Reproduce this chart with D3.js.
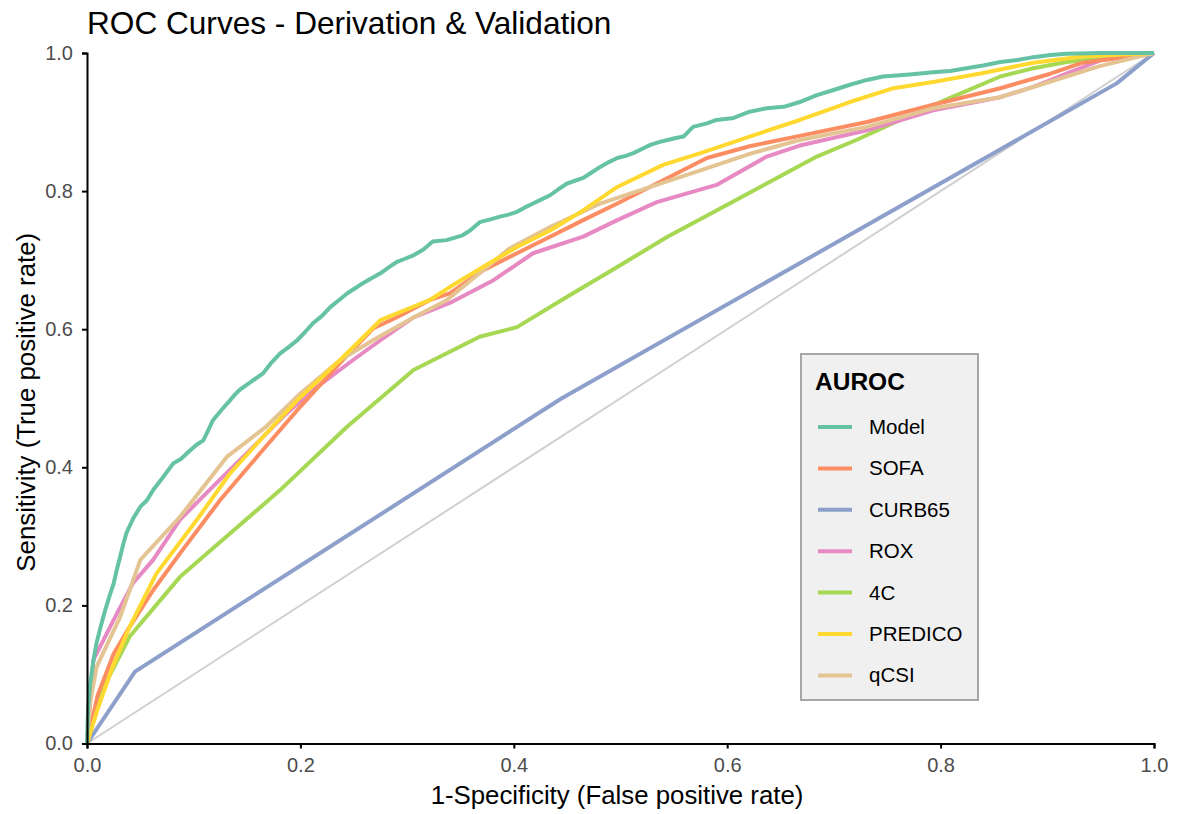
<!DOCTYPE html>
<html><head><meta charset="utf-8">
<script src="https://cdn.jsdelivr.net/npm/d3@7"></script>
<style>body{margin:0;background:#fff;font-family:"Liberation Sans",Arial,sans-serif}</style>
</head><body><svg id="c" width="1178" height="814"></svg>
<script>
const seriesNames = ["Model","SOFA","CURB65","ROX","4C","PREDICO","qCSI"];
const seriesColors = ["#66c2a5","#fc8d62","#8da0cb","#e78ac3","#a6d854","#ffd92f","#e5c494"];
const xTicks = [0,0.2,0.4,0.6,0.8,1.0];
const yTicks = [0,0.2,0.4,0.6,0.8,1.0];

const modelFpr = [0,0.001,0.003,0.006,0.009,0.013,0.017,0.021,0.025,0.028,0.031,0.034,0.037,0.043,0.050,0.056,0.062,0.070,0.081,0.088,0.097,0.103,0.109,0.114,0.118,0.126,0.134,0.139,0.143,0.152,0.165,0.172,0.181,0.189,0.197,0.205,0.212,0.220,0.228,0.236,0.244,0.252,0.259,0.267,0.275,0.283,0.290,0.298,0.306,0.315,0.324,0.337,0.352,0.359,0.368,0.378,0.387,0.395,0.403,0.410,0.418,0.426,0.434,0.442,0.450,0.465,0.474,0.481,0.489,0.497,0.505,0.512,0.520,0.528,0.536,0.544,0.552,0.559,0.568,0.581,0.590,0.606,0.621,0.637,0.653,0.668,0.684,0.699,0.715,0.731,0.746,0.771,0.793,0.809,0.824,0.840,0.856,0.872,0.887,0.903,0.918,0.950,1.0];
const modelTpr = [0,0.05,0.087,0.12,0.146,0.17,0.193,0.213,0.232,0.252,0.270,0.289,0.305,0.325,0.343,0.352,0.367,0.383,0.406,0.412,0.425,0.433,0.439,0.455,0.468,0.483,0.497,0.506,0.512,0.522,0.536,0.550,0.565,0.574,0.584,0.597,0.609,0.619,0.632,0.642,0.652,0.660,0.667,0.674,0.681,0.690,0.697,0.702,0.707,0.715,0.727,0.729,0.736,0.743,0.755,0.759,0.763,0.766,0.770,0.776,0.782,0.788,0.794,0.803,0.811,0.819,0.828,0.835,0.842,0.848,0.851,0.855,0.861,0.867,0.871,0.874,0.877,0.879,0.893,0.898,0.903,0.906,0.915,0.920,0.922,0.929,0.939,0.946,0.954,0.961,0.966,0.969,0.972,0.974,0.978,0.982,0.987,0.990,0.994,0.997,0.999,1.0,1.0];

const sofaFpr = [0,0.010,0.025,0.040,0.062,0.087,0.125,0.162,0.200,0.237,0.268,0.290,0.321,0.340,0.371,0.403,0.434,0.465,0.497,0.534,0.581,0.621,0.668,0.731,0.793,0.856,0.903,0.933,1.0];
const sofaTpr = [0,0.07,0.13,0.169,0.222,0.275,0.353,0.420,0.488,0.551,0.601,0.617,0.642,0.652,0.685,0.710,0.734,0.758,0.782,0.811,0.848,0.865,0.880,0.900,0.925,0.949,0.970,0.986,1.0];

const curbFpr = [0,0.045,0.445,0.965,1.0];
const curbTpr = [0,0.104,0.500,0.956,1.0];

const roxFpr = [0,0.006,0.025,0.043,0.062,0.087,0.118,0.156,0.187,0.212,0.249,0.275,0.306,0.340,0.381,0.418,0.465,0.497,0.534,0.590,0.637,0.668,0.731,0.793,0.856,0.887,0.918,0.949,1.0];
const roxTpr = [0,0.121,0.179,0.232,0.266,0.324,0.372,0.430,0.478,0.512,0.555,0.584,0.617,0.638,0.671,0.710,0.734,0.758,0.784,0.809,0.850,0.866,0.888,0.917,0.936,0.951,0.970,0.989,1.0];

const c4Fpr = [0,0.015,0.040,0.087,0.134,0.181,0.244,0.306,0.368,0.403,0.450,0.497,0.544,0.590,0.637,0.684,0.721,0.762,0.809,0.856,0.887,0.918,1.0];
const c4Tpr = [0,0.08,0.155,0.241,0.304,0.367,0.459,0.541,0.589,0.603,0.647,0.690,0.734,0.772,0.811,0.850,0.874,0.903,0.935,0.966,0.978,0.987,1.0];

const predFpr = [0,0.010,0.024,0.040,0.065,0.103,0.134,0.168,0.197,0.237,0.275,0.321,0.340,0.371,0.403,0.434,0.465,0.497,0.540,0.575,0.621,0.668,0.715,0.756,0.793,0.840,0.887,0.933,1.0];
const predTpr = [0,0.05,0.111,0.169,0.246,0.324,0.391,0.449,0.497,0.555,0.613,0.642,0.661,0.690,0.719,0.743,0.772,0.806,0.838,0.855,0.879,0.903,0.929,0.949,0.958,0.971,0.986,0.995,1.0];

const qcsiFpr = [0,0.003,0.009,0.031,0.050,0.087,0.131,0.168,0.200,0.237,0.268,0.306,0.337,0.371,0.396,0.434,0.481,0.528,0.575,0.621,0.668,0.731,0.793,0.856,0.918,0.949,1.0];
const qcsiTpr = [0,0.06,0.111,0.183,0.266,0.328,0.415,0.459,0.507,0.555,0.584,0.617,0.642,0.685,0.717,0.748,0.782,0.806,0.830,0.854,0.874,0.893,0.920,0.936,0.966,0.981,1.0];

const fprs = [modelFpr,sofaFpr,curbFpr,roxFpr,c4Fpr,predFpr,qcsiFpr];
const tprs = [modelTpr,sofaTpr,curbTpr,roxTpr,c4Tpr,predTpr,qcsiTpr];

const svg = d3.select("#c");
const x = d3.scaleLinear().domain([0,1]).range([87,1154]);
const y = d3.scaleLinear().domain([0,1]).range([743.5,53]);

svg.append("line").attr("x1",x(0)).attr("y1",y(0)).attr("x2",x(1)).attr("y2",y(1))
  .attr("stroke","#d0d0d0").attr("stroke-width",2);

const line = d3.line().x(d=>x(d[0])).y(d=>y(d[1]));
const order = [2,4,3,1,6,5,0];
order.forEach(i=>{
  const pts = fprs[i].map((v,k)=>[v,tprs[i][k]]);
  svg.append("path").datum(pts).attr("d",line).attr("fill","none")
    .attr("stroke",seriesColors[i]).attr("stroke-width",4).attr("stroke-linejoin","round");
});

const xa = svg.append("g").attr("transform",`translate(0,${y(0)})`)
  .call(d3.axisBottom(x).tickValues(xTicks).tickFormat(d3.format(".1f")).tickSizeOuter(0).tickSize(5).tickPadding(9));
const ya = svg.append("g").attr("transform",`translate(${x(0)},0)`)
  .call(d3.axisLeft(y).tickValues(yTicks).tickFormat(d3.format(".1f")).tickSizeOuter(0).tickSize(5).tickPadding(9));
[xa,ya].forEach(a=>{
  a.select(".domain").attr("stroke","#000").attr("stroke-width",2);
  a.selectAll(".tick line").attr("stroke","#000").attr("stroke-width",2);
  a.selectAll(".tick text").attr("fill","#4d4d4d").attr("font-size",20).attr("font-family","Liberation Sans, Arial, sans-serif");
});

svg.append("text").attr("x",87).attr("y",34).attr("font-size",31.6).attr("fill","#000").text("ROC Curves - Derivation & Validation");
svg.append("text").attr("x",617).attr("y",804).attr("text-anchor","middle").attr("font-size",25.8).text("1-Specificity (False positive rate)");
svg.append("text").attr("transform",`translate(35,${y(0.5)+4}) rotate(-90)`).attr("text-anchor","middle").attr("font-size",25.8).text("Sensitivity (True positive rate)");

const lg = svg.append("g");
lg.append("rect").attr("x",801).attr("y",354).attr("width",177).attr("height",346)
  .attr("fill","#f0f0f0").attr("stroke","#a6a6a6").attr("stroke-width",2);
lg.append("text").attr("x",815).attr("y",390).attr("font-size",24.5).attr("font-weight","bold").text("AUROC");
seriesNames.forEach((n,i)=>{
  const cy = 427 + i*41.4;
  lg.append("line").attr("x1",818).attr("x2",852).attr("y1",cy).attr("y2",cy)
    .attr("stroke",seriesColors[i]).attr("stroke-width",4);
  lg.append("text").attr("x",869).attr("y",cy+7).attr("font-size",20.5).text(n);
});
</script></body></html>
